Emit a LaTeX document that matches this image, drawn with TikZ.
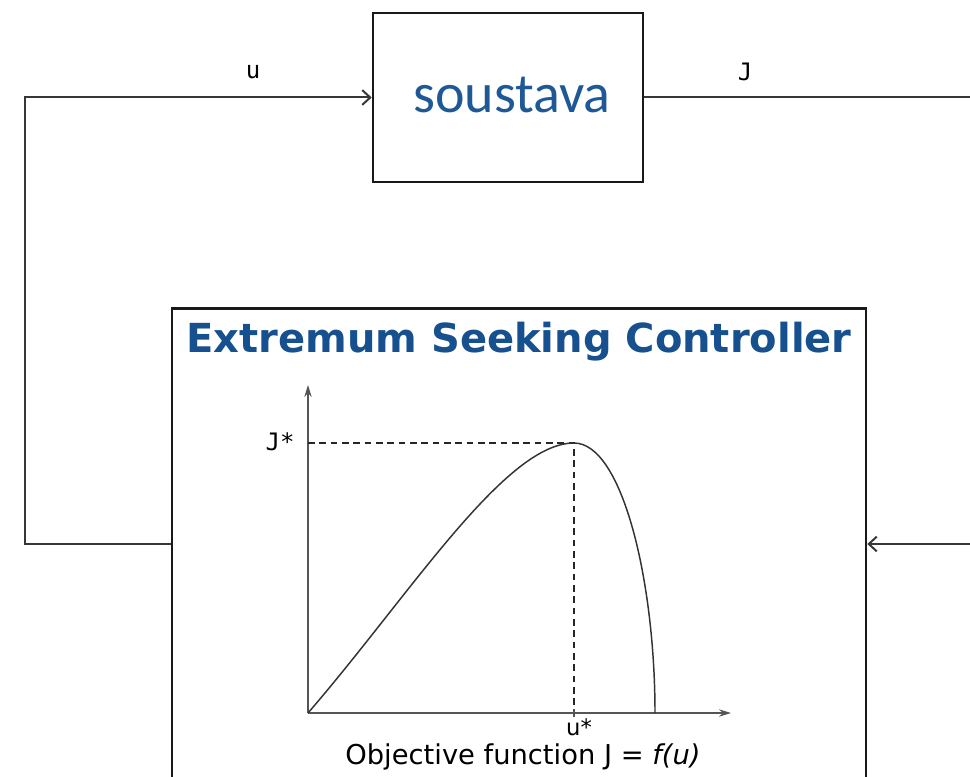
\documentclass[tikz,border=0pt]{standalone}
\usepackage{fontspec}
\setmainfont{DejaVu Sans}
\newfontfamily\carlito{Carlito}
\newfontfamily\dejamono{DejaVu Sans Mono}
\usetikzlibrary{arrows.meta}
\definecolor{escblue}{RGB}{22,80,142}
\definecolor{sysblue}{RGB}{30,88,150}
\definecolor{linegray}{RGB}{55,55,55}
\definecolor{axgray}{RGB}{85,85,85}
\tikzset{
  blockbox/.style={draw=black!90, line width=1.9pt, rectangle, inner sep=0pt},
  wire/.style={draw=linegray, line width=1.5pt},
  wirearrow/.style={wire, -{Straight Barb[length=6pt,width=11pt,line width=1.5pt]}},
  axisline/.style={draw=axgray, line width=1pt, -{Stealth[length=9pt,width=5.5pt]}},
  guide/.style={draw=black!85, line width=1.2pt, dash pattern=on 5pt off 3.5pt},
  curveline/.style={draw=black!80, line width=1.1pt},
  monolabel/.style={font=\dejamono\fontsize{18pt}{20pt}\selectfont, inner sep=0pt},
}
\begin{document}
\begin{tikzpicture}[x=0.75pt,y=-0.75pt]
\useasboundingbox (0,0) rectangle (970,777);
\clip (0,0) rectangle (970,777);
\fill[white] (0,0) rectangle (970,777);

% system block
\node[blockbox, minimum width=202.5pt, minimum height=126.75pt] (sys) at (508,97.5) {};
\node[text=sysblue, font=\carlito\fontsize{42pt}{48pt}\selectfont, inner sep=0pt] (systxt) at (512,95) {soustava};

% ESC block (bottom runs off the picture)
\node[blockbox, minimum width=520.5pt, minimum height=375pt, anchor=north] (esc) at (519,307) {};
\node[text=escblue, font=\fontsize{30pt}{34pt}\selectfont\bfseries, inner sep=0pt] (title) at (519,342) {Extremum Seeking Controller};

% loop connectors
\coordinate (lt) at (25,97.5);
\coordinate (lb) at (25,544);
\coordinate (rt) at (975,97.5);
\coordinate (rb) at (975,544);
\draw[wirearrow, line join=miter] (esc.west |- lb) -- (lb) -- (lt) -- (sys.west);
\draw[wire] (sys.east) -- (rt);
\draw[wirearrow] (rb) -- (esc.east |- rb);
\node[monolabel] (ulab) at (253,72) {u};
\node[monolabel] (jlab) at (745,72) {J};

% plot
\coordinate (O) at (308,713);
\coordinate (ytop) at (308,385);
\coordinate (xend) at (731,713);
\coordinate (peak) at (574,443);
\coordinate (zero) at (655,713);
\coordinate (jy) at (308,443);
\coordinate (ux) at (574,713);
\draw[axisline] (O) -- (ytop);
\draw[axisline] (O) -- (xend);
\draw[guide] (jy) -- (peak) -- (ux);
\draw[curveline] (O) .. controls (410,595) and (505,443) .. (peak)
                 .. controls (622,443) and (655,580) .. (zero);
\draw[draw=axgray, line width=0.8pt] (574,709) -- (574,717);
\node[monolabel] (jstar) at (280,442) {J*};
\node[font=\fontsize{17pt}{19pt}\selectfont, inner sep=0pt] (ustar) at (579,727) {u*};
\node[font=\fontsize{20.5pt}{24pt}\selectfont, inner sep=0pt] (objf) at (523,757) {Objective function J = \textit{f(u)}};
\end{tikzpicture}
\end{document}
